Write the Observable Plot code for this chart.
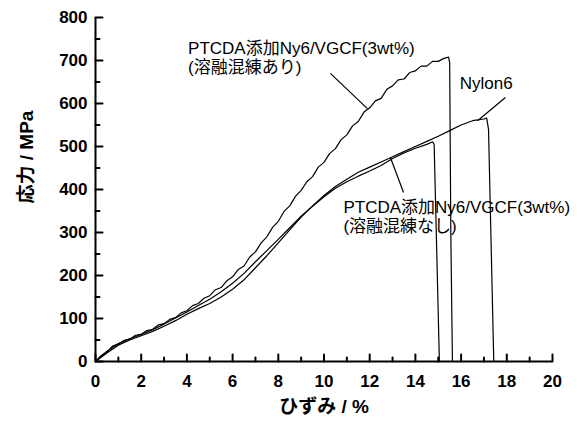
<!DOCTYPE html>
<html>
<head>
<meta charset="utf-8">
<script src="https://cdn.jsdelivr.net/npm/d3@7"></script>
<script src="https://cdn.jsdelivr.net/npm/@observablehq/plot@0.6"></script>
<style>
  html, body { margin: 0; padding: 0; background: #fff; }
</style>
</head>
<body>
<div id="chart"></div>
<script>
// ---- data ----
const meltStrain = [0,0.25,0.5,0.75,1,1.25,1.5,1.75,2,2.25,2.5,2.75,3,3.25,3.5,3.75,4,4.25,4.5,4.75,5,5.25,5.5,5.75,6,6.25,6.5,6.75,7,7.25,7.5,7.75,8,8.25,8.5,8.75,9,9.25,9.5,9.75,10,10.25,10.5,10.75,11,11.25,11.5,11.75,12,12.25,12.5,12.75,13,13.25,13.5,13.75,14,14.25,14.5,14.75,15,15.25,15.45,15.5,15.55,15.62];
const meltStress = [0,14,22,36,41,49,52,61,63,72,75,85,88,98,102,113,118,130,135,147,153,167,172,188,197,214,222,243,255,276,290,312,326,349,362,384,398,418,430,452,463,484,495,516,527,548,558,580,590,606,612,633,641,655,657,672,676,687,687,698,698,705,708,695,300,0];

const nyStrain = [0,0.5,1,1.5,2,2.5,3,3.5,4,4.5,5,5.5,6,6.5,7,7.5,8,8.5,9,9.5,10,10.5,11,11.5,12,12.5,13,13.5,14,14.5,15,15.5,16,16.5,17,17.12,17.2,17.43];
const nyStress = [0,20,38,50,60,70,82,95,110,123,135,150,168,190,218,246,276,306,336,362,386,407,424,440,452,464,476,488,500,512,524,537,550,560,564,566,540,0];

const noMeltStrain = [0,0.5,1,1.5,2,2.5,3,3.5,4,4.5,5,5.5,6,6.5,7,7.5,8,8.5,9,9.5,10,10.5,11,11.5,12,12.5,13,13.5,14,14.5,14.75,14.82,15.05];
const noMeltStress = [0,24,41,53,63,74,87,101,115,130,145,162,182,205,232,258,284,311,338,361,383,403,418,431,443,456,472,485,496,505,511,505,0];

const xMajor = [0,2,4,6,8,10,12,14,16,18,20];
const xMinor = [1,3,5,7,9,11,13,15,17,19];
const yMajor = [0,100,200,300,400,500,600,700,800];
const yMinor = [50,150,250,350,450,550,650,750];

const labelMelt = "PTCDA添加Ny6/VGCF(3wt%)\n(溶融混練あり)";
const labelNylon = "Nylon6";
const labelNoMelt = "PTCDA添加Ny6/VGCF(3wt%)\n(溶融混練なし)";

// annotation anchors (data units)
const startLabels = [
  {text: labelMelt, x: 4.05, y: 707},
  {text: labelNoMelt, x: 10.85, y: 337}
];
const middleLabels = [
  {text: labelNylon, x: 17.1, y: 648}
];
const leaders = [
  {x1: 10.28, y1: 670, x2: 11.9, y2: 588},
  {x1: 17.94, y1: 614, x2: 16.72, y2: 560},
  {x1: 12.91, y1: 474, x2: 13.48, y2: 393}
];

const toRows = (xs, ys) => xs.map((x, i) => ({x, y: ys[i]}));
const melt = toRows(meltStrain, meltStress);
const nylon = toRows(nyStrain, nyStress);
const noMelt = toRows(noMeltStrain, noMeltStress);

const tickShape = {draw(context, l) { context.moveTo(0, 0); context.lineTo(0, -l); }};
const labelStyle = {x: "x", y: "y", text: "text", lineAnchor: "middle", fontSize: 17, lineHeight: 1.12, fill: "#000"};

const chart = Plot.plot({
  width: 577,
  height: 423,
  marginLeft: 95,
  marginRight: 25,
  marginTop: 17,
  marginBottom: 62,
  style: {fontFamily: "'Liberation Sans', Arial, 'Noto Sans CJK JP', sans-serif", background: "#fff", color: "#000"},
  x: {domain: [0, 20]},
  y: {domain: [0, 800]},
  marks: [
    Plot.axisX(xMajor, {tickSize: 0, tickPadding: 13, fontSize: 17, fontWeight: "bold", label: null}),
    Plot.axisY(yMajor, {tickSize: 0, tickPadding: 8, fontSize: 17, fontWeight: "bold", label: null}),
    Plot.vector(xMajor, {x: d => d, y: 0, length: 7, rotate: 0, anchor: "start", shape: tickShape, strokeWidth: 2}),
    Plot.vector(xMinor, {x: d => d, y: 0, length: 4, rotate: 0, anchor: "start", shape: tickShape, strokeWidth: 2}),
    Plot.vector(yMajor, {x: 0, y: d => d, length: 7, rotate: 90, anchor: "start", shape: tickShape, strokeWidth: 2}),
    Plot.vector(yMinor, {x: 0, y: d => d, length: 4, rotate: 90, anchor: "start", shape: tickShape, strokeWidth: 2}),
    Plot.line(noMelt, {x: "x", y: "y", stroke: "#000", strokeWidth: 1.2}),
    Plot.line(nylon, {x: "x", y: "y", stroke: "#000", strokeWidth: 1.2}),
    Plot.line(melt, {x: "x", y: "y", stroke: "#000", strokeWidth: 1.2}),
    Plot.ruleX([0], {stroke: "#000", strokeWidth: 2}),
    Plot.ruleY([0], {stroke: "#000", strokeWidth: 2}),
    Plot.link(leaders, {x1: "x1", y1: "y1", x2: "x2", y2: "y2", stroke: "#000", strokeWidth: 1.2}),
    Plot.text(startLabels, {...labelStyle, textAnchor: "start"}),
    Plot.text(middleLabels, {...labelStyle, textAnchor: "middle"}),
    Plot.text(["ひずみ / %"], {frameAnchor: "bottom", dy: 51, text: d => d, fontSize: 19, fontWeight: "bold", fill: "#000"}),
    Plot.text(["応力 / MPa"], {frameAnchor: "left", dx: -69, dy: 14, rotate: -90, text: d => d, fontSize: 19, fontWeight: "bold", fill: "#000"})
  ]
});
document.getElementById("chart").appendChild(chart);
</script>
</body>
</html>
